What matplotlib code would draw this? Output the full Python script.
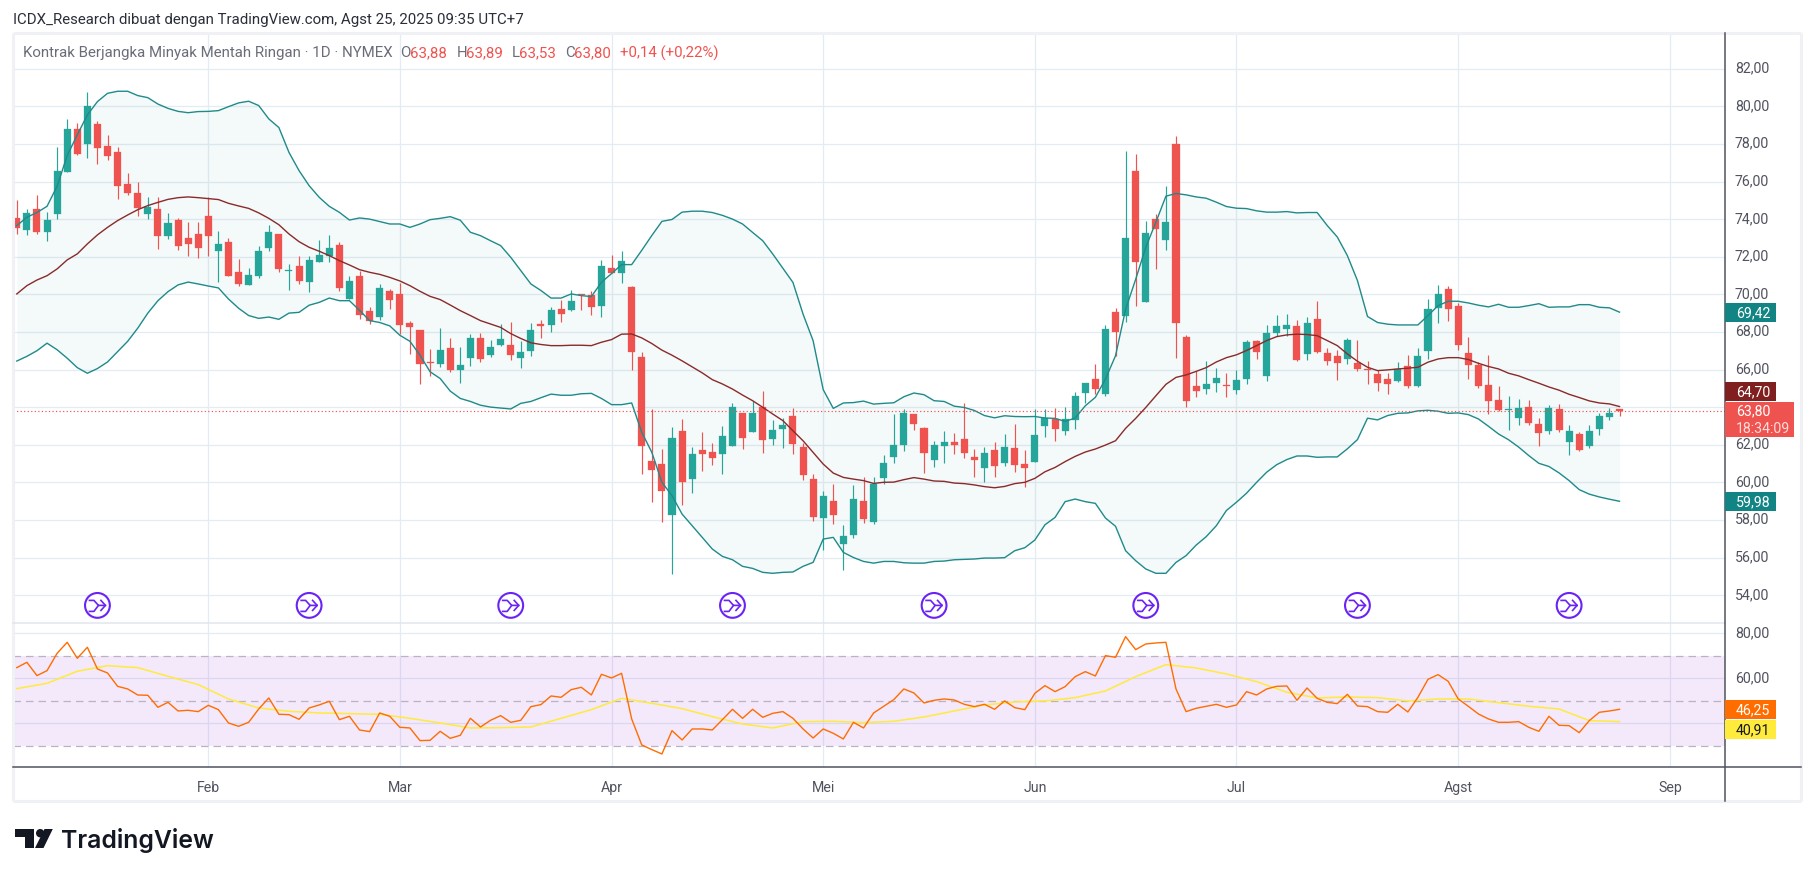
# TradingView style chart: crude oil daily candles, Bollinger Bands and RSI

import numpy as np
import matplotlib.pyplot as plt
from matplotlib.patches import Circle, Polygon, Rectangle
from matplotlib.ticker import FixedLocator, FuncFormatter
from matplotlib.transforms import ScaledTranslation

# -------------------- Data --------------------
opens = [74.05,73.4,74.55,73.3,74.25,76.5,78.8,78.0,79.05,77.9,
 77.55,75.85,75.4,74.25,74.55,73.1,73.95,73.0,73.2,74.15,
 72.3,72.8,71.2,70.5,71.0,72.45,73.2,71.25,71.5,70.65,
 71.7,72.05,72.6,69.75,70.95,69.13,68.8,70.2,70.0,68.5,
 68.1,66.4,66.3,67.15,65.95,66.6,67.7,66.75,67.3,67.3,
 66.6,67.0,68.4,68.35,69.2,69.15,70.0,69.95,69.4,71.4,
 71.15,70.4,66.66,61.13,61.0,58.26,62.73,60.17,61.72,61.6,
 61.5,61.93,63.68,62.67,64.0,62.3,62.83,63.52,61.88,60.17,
 58.1,59.0,56.72,57.2,59.0,57.88,60.23,61.35,61.98,63.63,
 62.88,61.18,61.93,62.14,62.3,61.34,60.76,61.72,61.03,61.82,
 60.97,61.08,62.99,63.37,62.73,63.31,64.75,65.49,64.7,69.06,
 68.87,76.56,69.61,74.01,72.91,78.0,67.73,65.13,64.97,65.29,
 65.18,64.91,65.5,67.52,65.66,67.95,68.16,68.32,66.83,68.69,
 66.88,66.72,66.56,66.35,66.03,65.77,65.5,65.39,66.19,65.13,
 66.99,69.28,70.29,69.38,66.88,66.24,65.18,64.38,63.85,63.43,
 64.01,63.11,62.73,63.9,62.15,62.57,61.94,62.84,63.48,63.88]
highs = [75.0,74.55,75.3,74.4,77.85,79.3,79.1,80.75,79.2,78.5,
 77.85,76.45,76.0,75.2,75.2,74.3,74.05,73.85,73.85,75.2,
 73.35,73.0,71.9,71.4,72.55,73.7,73.2,71.6,72.05,72.05,
 72.9,73.15,72.8,70.95,71.25,69.3,70.55,70.3,70.6,68.6,
 68.1,67.1,68.2,67.65,67.2,67.9,67.95,67.55,68.4,68.55,
 67.5,68.45,68.65,69.35,69.7,70.25,70.0,70.15,71.85,72.1,
 72.3,70.45,66.91,63.9,61.77,62.94,63.37,61.88,62.67,62.1,
 63.0,64.2,63.68,64.32,64.85,63.3,63.42,63.95,62.1,60.44,
 59.54,59.9,57.73,59.85,60.28,60.28,61.45,63.63,63.9,63.63,
 62.94,62.2,62.73,62.62,64.2,61.77,61.88,62.14,62.57,63.1,
 61.72,63.9,63.9,63.95,64.0,64.8,65.28,66.29,68.37,69.27,
 77.63,77.47,73.9,74.28,75.77,78.44,67.84,65.93,66.46,66.08,
 65.82,65.98,67.57,67.57,68.37,68.9,68.96,68.64,68.8,69.65,
 67.15,67.04,67.68,67.57,66.46,65.98,65.82,66.4,66.78,67.15,
 69.76,70.5,70.45,69.54,67.73,66.4,66.78,65.13,64.6,64.44,
 64.38,63.43,64.12,64.17,63.05,62.68,63.05,63.69,63.96,63.89]
lows = [73.2,73.15,73.2,72.85,74.0,76.5,77.4,77.25,76.95,77.15,
 75.05,75.3,74.15,74.0,72.4,72.95,72.35,72.05,71.95,72.05,
 70.65,71.0,70.45,70.5,70.85,72.3,71.2,70.25,70.55,70.1,
 71.7,71.7,70.2,69.75,68.7,68.4,68.65,69.2,67.9,66.8,
 65.25,65.65,66.15,65.85,65.3,66.2,66.4,66.65,67.25,66.5,
 66.1,66.7,67.7,68.0,68.55,69.1,69.15,68.9,68.8,71.15,
 70.6,66.0,60.44,58.95,57.9,55.12,58.8,59.43,60.6,60.92,
 60.44,61.93,61.77,62.67,61.55,61.98,61.82,61.5,60.12,57.94,
 56.4,57.78,55.33,57.04,57.83,57.78,59.9,61.03,61.66,62.78,
 60.49,60.81,61.03,61.5,61.29,60.28,60.01,60.28,60.87,60.55,
 59.75,61.08,62.41,62.2,62.51,62.83,64.22,64.7,64.59,66.72,
 68.51,69.4,69.61,71.35,72.33,66.63,64.01,64.56,64.7,64.81,
 64.54,64.7,65.23,66.56,65.39,67.79,67.79,66.46,66.51,66.88,
 66.24,65.45,66.3,65.93,65.23,64.86,64.7,65.34,65.02,65.07,
 66.56,68.48,68.58,67.04,65.5,65.02,63.64,63.8,62.79,63.05,
 63.05,61.94,62.57,62.68,61.46,61.67,61.83,62.52,63.32,63.53]
closes = [73.53,74.3,73.3,73.95,76.55,78.8,77.45,80.0,77.8,77.35,
 75.75,75.4,74.6,74.65,73.1,73.8,72.55,72.7,72.45,73.1,
 72.7,71.0,70.55,71.05,72.3,73.3,71.35,71.3,70.7,71.85,
 72.1,72.45,70.35,70.7,68.9,68.6,70.35,69.7,68.35,68.25,
 66.3,66.35,67.05,66.0,66.25,67.7,66.55,67.2,67.6,66.75,
 66.95,68.1,68.3,69.15,68.95,69.65,69.95,69.35,71.5,71.15,
 71.75,66.95,61.93,60.65,59.55,62.35,60.0,61.5,61.5,61.3,
 62.46,64.0,62.35,63.68,62.25,62.78,63.05,62.03,60.39,58.15,
 59.27,58.26,57.14,59.1,58.05,59.9,61.03,61.98,63.68,63.1,
 61.56,61.98,62.14,61.98,61.56,61.18,61.56,60.87,61.88,60.92,
 60.76,62.51,63.42,62.83,63.37,64.59,65.28,64.96,68.15,68.0,
 73.0,71.74,73.27,73.5,73.85,68.5,64.33,64.86,65.23,65.55,
 65.13,65.45,67.47,66.94,67.95,68.32,68.37,66.51,68.48,66.94,
 66.46,66.35,67.57,66.03,65.96,65.29,65.23,66.03,65.13,66.72,
 69.22,70.02,69.22,67.31,66.24,65.13,64.33,63.85,63.9,63.96,
 63.16,62.63,63.96,62.79,62.73,61.72,62.73,63.53,63.69,63.80]

bb_upper = [73.65,74.1,74.35,74.68,75.75,77.38,78.48,79.54,80.25,80.69,
 80.8,80.8,80.57,80.46,80.12,79.89,79.73,79.66,79.72,79.73,
 79.77,79.98,80.18,80.27,80.04,79.33,78.87,77.55,76.58,75.78,
 75.16,74.68,74.36,73.95,74.06,74.0,73.87,73.74,73.74,73.56,
 73.74,73.97,74.04,74.13,73.94,73.3,73.12,72.85,72.59,71.97,
 71.26,70.55,70.2,69.8,69.8,70.02,69.93,69.88,70.64,71.1,
 71.58,71.58,72.34,73.13,73.88,73.98,74.37,74.42,74.42,74.35,
 74.2,74.0,73.74,73.29,72.85,72.14,71.38,70.63,68.95,67.53,
 64.93,63.93,64.22,64.24,64.32,64.16,64.2,64.23,64.55,64.75,
 64.66,64.34,64.3,64.05,63.98,63.82,63.55,63.43,63.54,63.5,
 63.49,63.5,63.42,63.4,63.24,63.42,64.07,64.52,65.49,66.73,
 69.2,70.8,72.5,73.83,75.22,75.36,75.29,75.18,75.11,74.9,
 74.67,74.58,74.56,74.44,74.37,74.37,74.4,74.33,74.35,74.35,
 73.66,73.05,72.06,70.73,68.82,68.5,68.41,68.37,68.37,68.37,
 68.87,69.4,69.63,69.63,69.54,69.42,69.33,69.47,69.31,69.31,
 69.4,69.5,69.31,69.33,69.33,69.45,69.45,69.31,69.28,69.05]
bb_basis = [70.02,70.46,70.76,70.99,71.35,71.83,72.15,72.68,73.16,73.56,
 73.92,74.22,74.5,74.72,74.89,75.05,75.14,75.18,75.14,75.09,
 75.04,74.84,74.7,74.57,74.33,74.04,73.7,73.21,72.8,72.5,
 72.29,72.06,71.79,71.56,71.31,71.17,71.06,70.9,70.71,70.46,
 70.16,69.89,69.72,69.43,69.13,68.87,68.6,68.42,68.24,67.91,
 67.65,67.42,67.33,67.27,67.27,67.29,67.29,67.27,67.45,67.59,
 67.88,67.89,67.68,67.38,67.03,66.76,66.46,66.14,65.82,65.46,
 65.23,64.96,64.64,64.34,63.99,63.63,63.28,62.74,62.21,61.59,
 60.97,60.49,60.26,60.17,60.09,59.94,60.0,60.01,60.14,60.25,
 60.17,60.07,60.05,59.96,59.93,59.86,59.77,59.71,59.78,59.93,
 60.0,60.21,60.56,60.79,61.1,61.38,61.61,61.77,61.98,62.21,
 62.87,63.4,63.98,64.6,65.21,65.58,65.71,65.9,66.1,66.4,
 66.63,66.78,67.01,67.27,67.54,67.75,67.84,67.88,67.86,67.8,
 67.54,67.27,66.83,66.44,66.12,65.94,65.98,66.03,66.07,66.12,
 66.39,66.56,66.63,66.63,66.53,66.33,66.16,66.03,65.8,65.66,
 65.46,65.27,65.07,64.9,64.68,64.51,64.33,64.22,64.17,64.03]
bb_lower = [66.45,66.7,67.0,67.4,67.05,66.6,66.1,65.8,66.05,66.4,
 66.95,67.5,68.2,69.0,69.66,70.14,70.5,70.65,70.55,70.44,
 70.34,69.75,69.26,68.87,68.72,68.79,68.67,69.0,69.04,69.42,
 69.57,69.8,69.66,69.66,69.15,68.6,68.5,68.32,67.82,67.5,
 66.76,65.88,65.52,64.85,64.46,64.3,64.1,64.0,63.95,63.9,
 64.2,64.3,64.5,64.69,64.63,64.63,64.71,64.73,64.46,64.13,
 64.13,64.22,62.66,61.59,60.0,59.29,58.31,57.69,57.07,56.45,
 56.06,55.88,55.53,55.42,55.21,55.16,55.21,55.23,55.53,55.74,
 56.98,57.07,56.27,56.0,55.79,55.7,55.79,55.79,55.72,55.7,
 55.7,55.79,55.81,55.88,55.9,55.92,55.97,55.97,55.99,56.36,
 56.52,56.93,57.74,58.13,58.97,59.11,58.97,58.88,58.1,57.66,
 56.36,55.83,55.39,55.16,55.16,55.74,56.1,56.66,57.11,57.69,
 58.5,58.94,59.42,60.0,60.54,60.94,61.21,61.4,61.4,61.33,
 61.35,61.35,61.78,62.27,63.41,63.32,63.55,63.67,63.69,63.8,
 63.83,63.78,63.67,63.69,63.6,63.37,62.98,62.57,62.26,61.87,
 61.42,61.01,60.84,60.5,60.09,59.61,59.37,59.22,59.1,58.99]

rsi = [64.74,67.11,61.19,63.41,71.11,76.0,68.89,73.78,64.15,62.37,
 56.44,55.26,52.59,52.44,47.11,49.33,45.48,45.78,45.19,48.0,
 46.07,40.15,38.67,40.44,46.37,51.26,44.0,43.85,41.78,46.81,
 48.15,49.78,41.63,43.11,37.04,36.3,44.59,43.11,38.22,37.93,
 32.3,32.44,36.44,33.33,34.67,42.22,38.37,41.33,43.41,40.44,
 41.33,47.41,48.3,52.15,51.56,54.96,56.0,52.59,61.78,60.15,
 62.22,41.93,30.37,28.3,26.37,36.74,32.59,37.48,37.48,37.04,
 41.63,46.22,42.22,46.22,42.67,44.44,45.19,42.22,37.48,33.48,
 37.48,35.56,33.04,40.44,37.93,44.59,47.56,50.52,55.26,53.48,
 49.04,50.22,50.81,50.37,48.44,47.41,48.44,46.22,49.93,46.96,
 46.07,53.33,56.74,54.07,56.3,60.74,62.96,61.04,70.07,69.33,
 78.52,72.74,75.26,75.7,76.0,55.26,45.19,46.67,47.56,48.44,
 47.11,48.15,54.07,52.59,55.26,56.44,56.59,50.22,55.7,51.11,
 49.33,48.74,52.89,47.7,47.41,45.19,44.89,48.44,45.04,51.56,
 59.56,61.63,58.67,50.81,47.56,44.15,41.93,40.44,40.44,40.74,
 38.22,36.44,43.11,39.11,38.96,35.85,41.19,44.89,45.48,46.22]
# the smoothed RSI is read every third bar
rsi_ma_bars = list(range(0, 160, 3))
rsi_ma = [55.41,57.78,63.11,65.63,64.74,60.89,57.19,50.81,46.81,45.33,
 44.59,44.3,44.0,42.22,40.15,37.93,38.07,38.37,42.22,46.07,
 51.11,48.89,46.52,42.96,39.7,37.93,40.74,40.89,40.3,40.89,
 42.81,45.48,48.15,49.48,49.93,51.41,54.37,60.74,66.07,64.59,
 61.93,58.52,53.78,51.26,51.7,51.41,49.93,50.81,50.81,49.19,
 47.56,46.37,41.19,40.74]

month_bars   = [19, 38, 59, 80, 101, 121, 143, 164]
month_labels = ["Feb", "Mar", "Apr", "Mei", "Jun", "Jul", "Agst", "Sep"]
price_ticks  = list(range(54, 84, 2))
rsi_ticks    = [40, 60, 80]
rsi_levels   = [70, 50, 30]
hidden_ticks = [64, 40]    # these scale labels sit under the value badges
event_bars   = [8, 29, 49, 71, 91, 112, 133, 154]
last_price   = 63.80

header_text = "ICDX_Research dibuat dengan TradingView.com, Agst 25, 2025 09:35 UTC+7"
symbol_text = "Kontrak Berjangka Minyak Mentah Ringan · 1D · NYMEX"
ohlc_names  = ["O", "H", "L", "C"]
ohlc_values = ["63,88", "63,89", "63,53", "63,80"]
change_text = "+0,14 (+0,22%)"

# -------------------- Tunables (pixel geometry of the 1814x878 image) --------------------
W, H = 1814, 878
PANE_L, PANE_R = 13, 1724.5
PANE_T, PANE_SPLIT, PANE_B, CHART_B, CHART_R = 34, 624, 768, 802, 1801
BAR_X0, BAR_DX = 16.8, 10.08
PRICE_Y80, PRICE_PX = 107.3, 18.8     # y of 80,00 and pixels per unit
RSI_Y80, RSI_PX = 634.3, 2.25
FONT = 10.8

COL_UP     = "#26a69a"
COL_DOWN   = "#ef5350"
COL_BAND   = "#1f8a8a"
COL_BASIS  = "#8a2a2a"
COL_GRID   = "#e3ecf2"
COL_BORDER = "#f0f1f4"
COL_AXIS   = "#50535e"
COL_TEXT   = "#6a6d78"
COL_RSI    = "#ff6d00"
COL_RSI_MA = "#ffeb3b"
COL_EVENT  = "#6a22f5"

plt.rcParams["font.family"] = ["Roboto", "DejaVu Sans"]

def bar_px(i):
    return BAR_X0 + BAR_DX * i

def to_fig(l, t, r, b):
    return [l / W, 1 - b / H, (r - l) / W, (b - t) / H]

def comma(v, pos=None):
    return f"{v:.2f}".replace(".", ",")

def scale_label(v, pos=None):
    return "" if round(v) in hidden_ticks else comma(v)

# -------------------- Figure --------------------
fig = plt.figure(figsize=(W / 100, H / 100), dpi=100, facecolor="white")
ax = fig.add_axes(to_fig(PANE_L, PANE_T, PANE_R, PANE_SPLIT))
ax_rsi = fig.add_axes(to_fig(PANE_L, PANE_SPLIT, PANE_R, PANE_B))

xlim = ((PANE_L - BAR_X0) / BAR_DX, (PANE_R - BAR_X0) / BAR_DX)
bars = np.arange(len(closes))

for a in (ax, ax_rsi):
    a.set_xlim(*xlim)
    for s in a.spines.values():
        s.set_visible(False)
    a.set_axisbelow(True)
    a.xaxis.set_major_locator(FixedLocator(month_bars))
    a.grid(True, color=COL_GRID, linewidth=0.9)
    a.yaxis.tick_right()
    a.tick_params(axis="both", length=0, labelsize=10.2, labelcolor=COL_AXIS, pad=7.5)
    a.yaxis.set_major_formatter(FuncFormatter(scale_label))

ax.set_ylim(80 - (PANE_SPLIT - PRICE_Y80) / PRICE_PX, 80 + (PRICE_Y80 - PANE_T) / PRICE_PX)
ax.yaxis.set_major_locator(FixedLocator(price_ticks))
ax.tick_params(axis="x", labelbottom=False)

ax_rsi.set_ylim(80 - (PANE_B - RSI_Y80) / RSI_PX, 80 + (RSI_Y80 - PANE_SPLIT) / RSI_PX)
ax_rsi.yaxis.set_major_locator(FixedLocator(rsi_ticks))
ax_rsi.set_xticklabels(month_labels)
ax_rsi.tick_params(axis="x", pad=9.5)

# scale labels sit about 2 px above their grid lines
lift = ScaledTranslation(0, 2 / 72, fig.dpi_scale_trans)
for a in (ax, ax_rsi):
    for lab in a.get_yticklabels():
        lab.set_transform(lab.get_transform() + lift)

# -------------------- Bollinger Bands + candles --------------------
o, h, l, c = map(np.array, (opens, highs, lows, closes))
colors = np.where(c >= o, COL_UP, COL_DOWN)

ax.fill_between(bars, bb_upper, bb_lower, color="#138484", alpha=0.045, linewidth=0, zorder=1)
ax.vlines(bars, l, h, colors=colors, linewidth=0.85, zorder=2)
ax.bar(bars, np.abs(c - o), bottom=np.minimum(o, c), width=0.7, color=colors,
       edgecolor=colors, linewidth=0.2, zorder=3)
ax.plot(bars, bb_upper, color=COL_BAND, lw=1.0, zorder=4)
ax.plot(bars, bb_lower, color=COL_BAND, lw=1.0, zorder=4)
ax.plot(bars, bb_basis, color=COL_BASIS, lw=1.0, zorder=4)
ax.axhline(last_price, color=COL_DOWN, lw=0.85, linestyle=(0, (1, 2)), zorder=5)

# -------------------- RSI pane --------------------
ax_rsi.axhspan(rsi_levels[2], rsi_levels[0], color="#9c27e0", alpha=0.105, linewidth=0, zorder=1)
for lev in rsi_levels:
    ax_rsi.axhline(lev, color="#b9b3c2", lw=0.9, linestyle=(0, (6, 4)), zorder=2)
ax_rsi.plot(rsi_ma_bars, rsi_ma, color=COL_RSI_MA, lw=1.1, zorder=3)
ax_rsi.plot(bars, rsi, color=COL_RSI, lw=1.0, zorder=4)

# -------------------- Overlay in image pixels: frame, texts, badges, icons, logo --------------------
ov = fig.add_axes([0, 0, 1, 1], facecolor="none")
ov.set_xlim(0, W)
ov.set_ylim(H, 0)
ov.axis("off")

for t0, t1 in [((PANE_L - 0.5, PANE_T - 0.5), (PANE_L - 0.5, CHART_B + 0.5)),
               ((PANE_L - 0.5, PANE_T - 0.5), (CHART_R, PANE_T - 0.5)),
               ((CHART_R, PANE_T - 0.5), (CHART_R, CHART_B + 0.5)),
               ((PANE_L - 0.5, CHART_B + 0.5), (CHART_R, CHART_B + 0.5))]:
    ov.plot([t0[0], t1[0]], [t0[1], t1[1]], color=COL_BORDER, lw=2.2, solid_capstyle="butt")
ov.plot([PANE_L, PANE_R], [PANE_SPLIT, PANE_SPLIT], color="#e2e5ec", lw=1.1)
ov.plot([PANE_L, CHART_R], [PANE_B, PANE_B], color=COL_AXIS, lw=1.1)
ov.plot([PANE_R, PANE_R], [PANE_T, CHART_B], color=COL_AXIS, lw=1.1)

ov.text(13, 20, header_text, fontsize=FONT, color="#2a2e39", va="center", ha="left")
ov.text(23, 53, symbol_text, fontsize=FONT, color=COL_TEXT, va="center", ha="left")
for name, val, xn, xv in zip(ohlc_names, ohlc_values, [400, 457, 512, 565.5], [410, 466, 519, 574]):
    ov.text(xn, 53, name, fontsize=FONT, color=COL_TEXT, va="center", ha="left")
    ov.text(xv, 53, val, fontsize=FONT, color=COL_DOWN, va="center", ha="left")
ov.text(620, 53, change_text, fontsize=FONT, color=COL_DOWN, va="center", ha="left")

# value badges on the right scale
def badge(top, bottom, right, color, lines, text_colors):
    ov.add_patch(Rectangle((PANE_R, top), right - PANE_R, bottom - top, facecolor=color, edgecolor="none", zorder=6))
    dy = (bottom - top) / len(lines)
    for k, (s, tc) in enumerate(zip(lines, text_colors)):
        ov.text(1736, top + dy * (k + 0.5), s, fontsize=10.2, color=tc, va="center", ha="left", zorder=7)

badge(304, 322.7, 1776, "#138484", [comma(69.42)], ["white"])
badge(383, 401.7, 1776, "#7f1f1f", [comma(64.70)], ["white"])
badge(403, 437.7, 1794, COL_DOWN, [comma(last_price), "18:34:09"], ["white", "#fcdcdb"])
badge(493, 511.7, 1776, "#138484", [comma(59.98)], ["white"])
badge(701, 719.7, 1776, COL_RSI, [comma(46.25)], ["white"])
badge(721, 739.7, 1776, COL_RSI_MA, [comma(40.91)], ["#131722"])

# economic event icons below the candles
for b in event_bars:
    cx, cy = bar_px(b), 606.4
    ov.add_patch(Circle((cx, cy), 12.4, facecolor="white", edgecolor=COL_EVENT, lw=1.5, zorder=6))
    ov.plot([cx - 8, cx - 3.5, cx + 1, cx + 8], [cy - 5, cy - 5, cy, cy], color=COL_EVENT, lw=1.2, zorder=7)
    ov.plot([cx - 8, cx - 3.5, cx + 1], [cy + 6, cy + 6, cy], color=COL_EVENT, lw=1.2, zorder=7)
    ov.plot([cx + 3.5, cx + 8, cx + 3.5], [cy - 5, cy, cy + 5], color=COL_EVENT, lw=1.2, zorder=7)

# TradingView logo
ov.add_patch(Polygon([(15, 830), (33.5, 830), (33.5, 849), (24.5, 849), (24.5, 838.5), (15, 838.5)],
                     facecolor="#131722", edgecolor="none"))
ov.add_patch(Circle((40.2, 834.2), 4.2, facecolor="#131722", edgecolor="none"))
ov.add_patch(Polygon([(44.5, 830), (52.8, 830), (43.5, 849), (35, 849)], facecolor="#131722", edgecolor="none"))
ov.text(61.5, 848, "TradingView", fontsize=17.85, fontweight="semibold", color="#131722", va="baseline",
        ha="left", family=["Inter", "DejaVu Sans"])

fig.savefig("out.png", dpi=100)
plt.close(fig)
